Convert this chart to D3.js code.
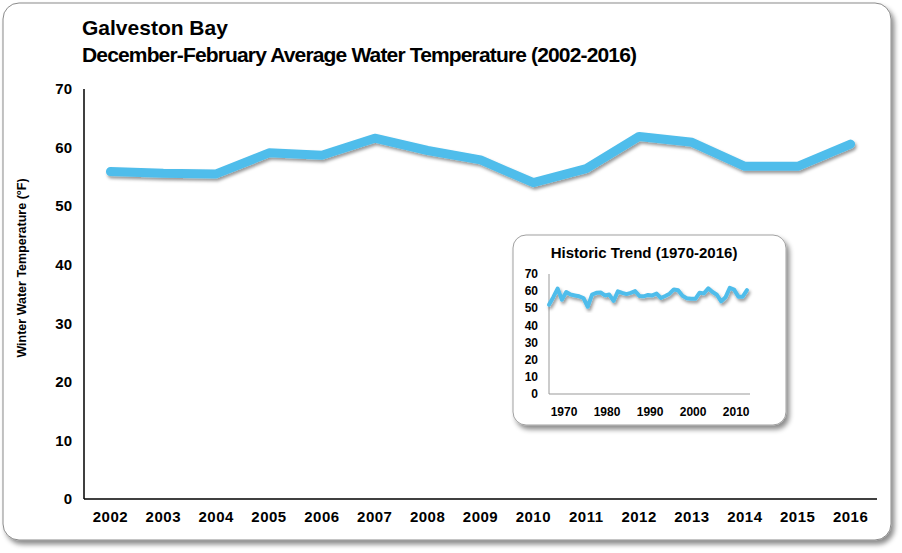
<!DOCTYPE html>
<html>
<head>
<meta charset="utf-8">
<script src="https://cdn.jsdelivr.net/npm/d3@7"></script>
<style>
  body { margin: 0; background: #fff; }
  text { font-family: "Liberation Sans Narrow", "Liberation Sans", sans-serif; font-weight: bold; fill: #000; }
</style>
</head>
<body>
<svg id="chart" width="902" height="553"></svg>
<script>
// Main chart data (Dec-Feb average, 2002-2016)
const years = [2002, 2003, 2004, 2005, 2006, 2007, 2008, 2009, 2010, 2011, 2012, 2013, 2014, 2015, 2016];
const temps = [55.9, 55.6, 55.5, 59.1, 58.7, 61.6, 59.5, 57.9, 54.0, 56.4, 61.9, 60.9, 56.8, 56.8, 60.6];

// Inset data (historic trend 1970-2001, then joined with the values above)
const histYears = d3.range(1970, 2002);
const histTemps = [52.1, 56.5, 61.5, 55.0, 59.5, 58.0, 57.5, 57.0, 56.0, 50.9,
                   58.0, 59.0, 59.2, 57.5, 58.0, 54.3, 59.9, 59.0, 58.3, 59.0,
                   60.0, 57.2, 57.0, 57.8, 57.5, 58.6, 56.0, 57.2, 58.5, 61.0,
                   60.5, 57.3];

const yTicks = [0, 10, 20, 30, 40, 50, 60, 70];
const insetXTicks = [1970, 1980, 1990, 2000, 2010];

const lineColor = "#4fbdeb";

let svg = d3.select("#chart");
let defs = svg.append("defs");

// Shadow filters
defs.append("filter").attr("id", "frameShadow")
  .attr("x", "-5%").attr("y", "-5%").attr("width", "112%").attr("height", "115%")
  .append("feDropShadow").attr("dx", 3).attr("dy", 4).attr("stdDeviation", 2.5)
  .attr("flood-color", "#000").attr("flood-opacity", 0.45);

defs.append("filter").attr("id", "lineShadow")
  .attr("x", "-5%").attr("y", "-20%").attr("width", "115%").attr("height", "150%")
  .append("feDropShadow").attr("dx", 1.5).attr("dy", 2.5).attr("stdDeviation", 1.5)
  .attr("flood-color", "#000").attr("flood-opacity", 0.4);

// Outer frame
svg.append("rect")
  .attr("x", 3).attr("y", 3).attr("width", 888).attr("height", 537)
  .attr("rx", 16).attr("ry", 16)
  .attr("fill", "#fff").attr("stroke", "#8a8a8a").attr("stroke-width", 1)
  .attr("filter", "url(#frameShadow)");

// Titles
svg.append("text").attr("x", 82).attr("y", 35).attr("font-size", "21px")
  .text("Galveston Bay");
svg.append("text").attr("x", 82).attr("y", 62).attr("font-size", "21px")
  .attr("textLength", 555).attr("lengthAdjust", "spacing")
  .text("December-February Average Water Temperature (2002-2016)");

// Main scales
const x = d3.scaleBand().domain(years).range([84, 877]);
const y = d3.scaleLinear().domain([0, 70]).range([499, 89]);

// Axes lines
svg.append("line").attr("x1", 84).attr("x2", 84).attr("y1", y(70)).attr("y2", y(0))
  .attr("stroke", "#000").attr("stroke-width", 1.5);
svg.append("line").attr("x1", 84).attr("x2", 877).attr("y1", y(0)).attr("y2", y(0))
  .attr("stroke", "#000").attr("stroke-width", 1.5);

// Y tick labels
svg.append("g").selectAll("text").data(yTicks).enter().append("text")
  .attr("x", 72).attr("y", (d) => y(d)).attr("dy", "0.35em")
  .attr("text-anchor", "end").attr("font-size", "15px")
  .text((d) => d);

// X tick labels
svg.append("g").selectAll("text").data(years).enter().append("text")
  .attr("x", (d) => x(d) + x.bandwidth() / 2).attr("y", 517).attr("dy", "0.35em")
  .attr("text-anchor", "middle").attr("font-size", "15px").attr("letter-spacing", "0.5px")
  .text((d) => d);

// Y axis title
svg.append("text")
  .attr("transform", "translate(26,268) rotate(-90)")
  .attr("text-anchor", "middle").attr("font-size", "12.5px")
  .text("Winter Water Temperature (°F)");

// Main line
const mainLine = d3.line()
  .x((d, i) => x(years[i]) + x.bandwidth() / 2)
  .y((d) => y(d));

svg.append("path").datum(temps)
  .attr("d", mainLine)
  .attr("fill", "none").attr("stroke", lineColor).attr("stroke-width", 9)
  .attr("stroke-linejoin", "round").attr("stroke-linecap", "round")
  .attr("filter", "url(#lineShadow)");

// ---- Inset ----
svg.append("rect")
  .attr("x", 513).attr("y", 235).attr("width", 273).attr("height", 190)
  .attr("rx", 13).attr("ry", 13)
  .attr("fill", "#fff").attr("stroke", "#a0a0a0").attr("stroke-width", 1)
  .attr("filter", "url(#frameShadow)");

svg.append("text").attr("x", 644).attr("y", 253).attr("dy", "0.35em")
  .attr("text-anchor", "middle").attr("font-size", "15px")
  .text("Historic Trend (1970-2016)");

const allYears = histYears.concat(years);
const allTemps = histTemps.concat(temps);

const ix = d3.scaleLinear().domain([1970, 2016]).range([549, 747]);
const iy = d3.scaleLinear().domain([0, 70]).range([394, 274]);

svg.append("line").attr("x1", 549).attr("x2", 549).attr("y1", iy(70)).attr("y2", iy(0))
  .attr("stroke", "#999").attr("stroke-width", 1);
svg.append("line").attr("x1", 549).attr("x2", 750).attr("y1", iy(0)).attr("y2", iy(0))
  .attr("stroke", "#999").attr("stroke-width", 1);

svg.append("g").selectAll("text").data(yTicks).enter().append("text")
  .attr("x", 538).attr("y", (d) => iy(d)).attr("dy", "0.35em")
  .attr("text-anchor", "end").attr("font-size", "12px")
  .text((d) => d);

svg.append("g").selectAll("text").data(insetXTicks).enter().append("text")
  .attr("x", (d) => ix(d) + 15).attr("y", 412).attr("dy", "0.35em")
  .attr("text-anchor", "middle").attr("font-size", "12px")
  .text((d) => d);

const insetLine = d3.line()
  .x((d, i) => ix(allYears[i]))
  .y((d) => iy(d));

svg.append("path").datum(allTemps)
  .attr("d", insetLine)
  .attr("fill", "none").attr("stroke", lineColor).attr("stroke-width", 4)
  .attr("stroke-linejoin", "round").attr("stroke-linecap", "round")
  .attr("filter", "url(#lineShadow)");
</script>
</body>
</html>
